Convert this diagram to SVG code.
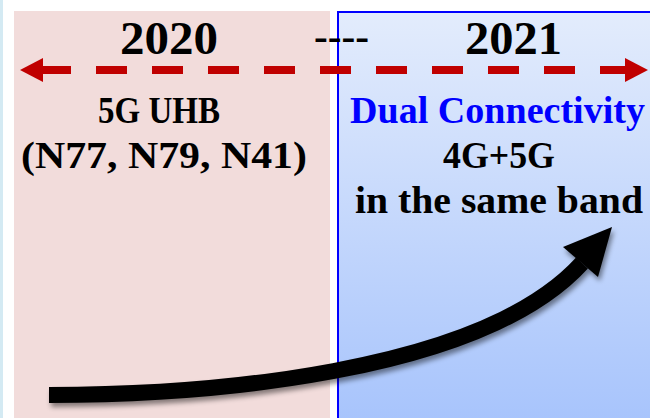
<svg xmlns="http://www.w3.org/2000/svg" width="650" height="418" viewBox="0 0 650 418">
<style>
.t{font-family:"Liberation Serif","Times New Roman",serif;font-weight:bold;fill:#000}
.big{font-size:46px}
.mid{font-size:37px}
.blue{fill:#0000ff}
</style>
<defs>
<linearGradient id="bg" x1="0" y1="0" x2="0" y2="1">
<stop offset="0" stop-color="#e3ecfc"/>
<stop offset="1" stop-color="#a6c3fc"/>
</linearGradient>
<filter id="sh" x="-10%" y="-20%" width="130%" height="150%">
<feDropShadow dx="2" dy="4" stdDeviation="2.5" flood-color="#000" flood-opacity="0.45"/>
</filter>
</defs>
<rect x="0" y="0" width="650" height="418" fill="#ffffff"/>
<rect x="0" y="0" width="3" height="418" fill="#d4eaf3"/>
<g id="panel2020">
<rect x="14" y="11" width="316" height="410" fill="#f2dcdb"/>
<text class="t big" x="120" y="54" textLength="98" lengthAdjust="spacingAndGlyphs">2020</text>
<text class="t mid" x="98" y="123" textLength="122" lengthAdjust="spacingAndGlyphs">5G UHB</text>
<text class="t mid" x="21" y="168" textLength="286" lengthAdjust="spacingAndGlyphs">(N77, N79, N41)</text>
</g>
<g id="panel2021">
<rect x="338" y="12" width="330" height="420" fill="url(#bg)" stroke="#0000ff" stroke-width="2"/>
<text class="t big" x="465" y="54" textLength="97" lengthAdjust="spacingAndGlyphs">2021</text>
<text class="t mid blue" x="350" y="123" textLength="295" lengthAdjust="spacingAndGlyphs">Dual Connectivity</text>
<text class="t mid" x="443" y="168" textLength="112" lengthAdjust="spacingAndGlyphs">4G+5G</text>
<text class="t mid" x="355" y="213" textLength="288" lengthAdjust="spacingAndGlyphs">in the same band</text>
</g>
<text class="t" x="314" y="50" font-size="40" textLength="55" lengthAdjust="spacingAndGlyphs">----</text>
<g id="connectors">
<g id="timeline">
<line x1="43" y1="70" x2="625" y2="70" stroke="#c00000" stroke-width="8" stroke-dasharray="31 25" stroke-dashoffset="3"/>
<polygon points="20,70 43,58 43,82" fill="#c00000"/>
<polygon points="648,70 625,58 625,82" fill="#c00000"/>
</g>
<g id="progress" filter="url(#sh)">
<path d="M49,395 C200,395 480,375 582,263" fill="none" stroke="#000" stroke-width="16"/>
<polygon points="612,227 563,247 598,277" fill="#000"/>
</g>
</g>
</svg>
